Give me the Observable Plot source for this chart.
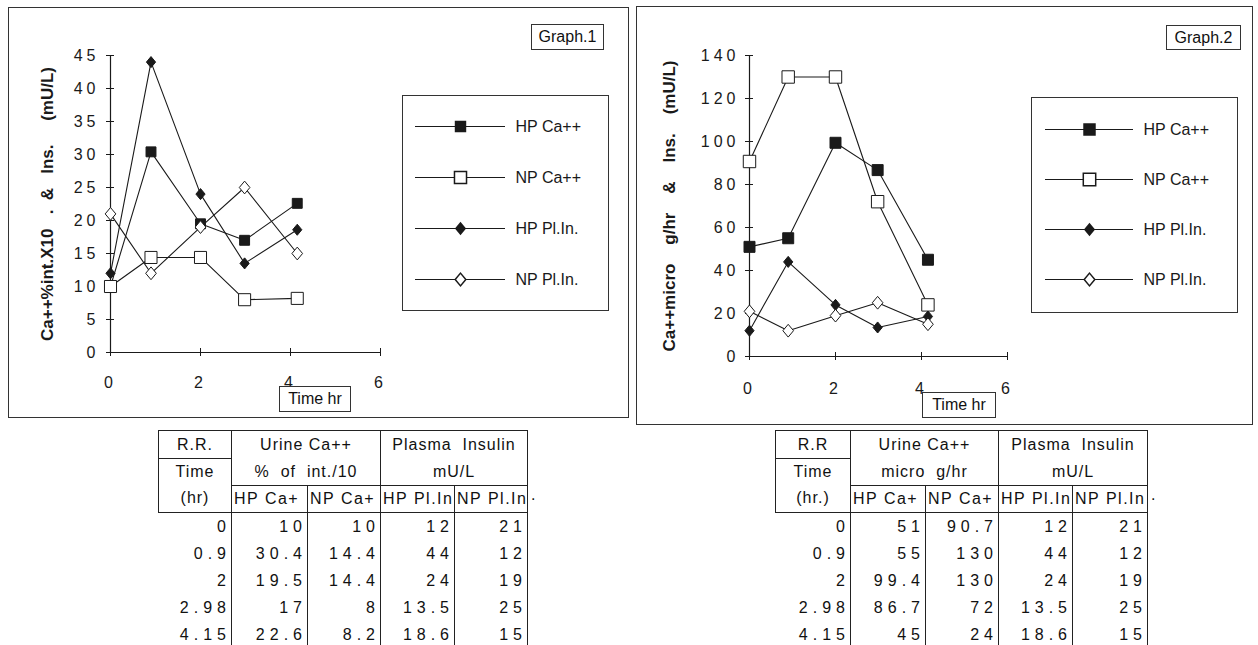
<!DOCTYPE html>
<html><head><meta charset="utf-8">
<script src="https://cdn.jsdelivr.net/npm/d3@7"></script>
<script src="https://cdn.jsdelivr.net/npm/@observablehq/plot@0.6"></script>
<style>
html,body{margin:0;padding:0;background:#fff;}
body{width:1258px;height:645px;position:relative;overflow:hidden;font-family:"Liberation Sans",Arial,sans-serif;color:#111;}
.panel{position:absolute;border:1px solid #333;box-sizing:border-box;}
.panel > .plot{position:absolute;left:0;top:0;}
.lg{position:absolute;border:1px solid #333;box-sizing:border-box;background:#fff;}
.lg > .plot{position:absolute;left:0;top:0;}
svg text{white-space:pre;}
.chart svg [aria-label^="x-axis"] text,.chart svg [aria-label^="y-axis"] text{letter-spacing:4px;}
.chart svg g[aria-label="ytitle"] text{letter-spacing:1px;}
.tag{position:absolute;border:1px solid #333;box-sizing:border-box;font-size:16px;display:flex;align-items:center;justify-content:center;background:#fff;}
table.dt{position:absolute;border-collapse:collapse;table-layout:fixed;font-size:16px;}
table.dt td{padding:0;height:27px;line-height:27px;white-space:pre;overflow:hidden;}
table.dt tr.hd2 td,table.dt tr.hd3 td{height:26px;line-height:26px;}
table.dt td.h{text-align:center;letter-spacing:1px;}
table.dt td.s{text-align:left;letter-spacing:1.5px;padding-left:2px;}
table.dt td.n{text-align:right;letter-spacing:5px;}
.bt{border-top:1px solid #222;}.bb{border-bottom:1px solid #222;}
.bl{border-left:1px solid #222;}.br{border-right:1px solid #222;}
.dot{position:absolute;font-size:16px;}
</style>
</head><body>
<div id="panel1" class="panel" style="left:8px;top:7px;width:621px;height:411px;"></div>
<div id="panel2" class="panel" style="left:636px;top:6px;width:617px;height:419px;"></div>
<script>
// ---------- data ----------
const times = [0, 0.9, 2, 2.98, 4.15];
const seriesNames = ["HP Ca++", "NP Ca++", "HP Pl.In.", "NP Pl.In."];
const g1HpCa = [10, 30.4, 19.5, 17, 22.6];
const g1NpCa = [10, 14.4, 14.4, 8, 8.2];
const g2HpCa = [51, 55, 99.4, 86.7, 45];
const g2NpCa = [90.7, 130, 130, 72, 24];
const hpPlIn = [12, 44, 24, 13.5, 18.6];
const npPlIn = [21, 12, 19, 25, 15];
const xTicks = [0, 2, 4, 6];
const g1YTicks = [0, 5, 10, 15, 20, 25, 30, 35, 40, 45];
const g2YTicks = [0, 20, 40, 60, 80, 100, 120, 140];
const g1Title = "Ca++%int.X10   .  &   Ins.     (mU/L)";
const g2Title = "Ca++micro    g/hr    &    Ins.    (mU/L)";

const INK = "#1a1a1a";
const diamond = {draw(ctx, size){const s = Math.sqrt(size); const w = s*0.5, h = s*0.6;
  ctx.moveTo(0,-h); ctx.lineTo(w,0); ctx.lineTo(0,h); ctx.lineTo(-w,0); ctx.closePath();}};

function makeStyles(sqR, osqR){
  return [
    {symbol:"square", fill:INK, stroke:INK, r:sqR},
    {symbol:"square", fill:"#fff", stroke:INK, r:osqR},
    {symbol:diamond, fill:INK, stroke:INK, r:5.2},
    {symbol:diamond, fill:"#fff", stroke:INK, r:6}
  ];
}

function chart(cfg){
  const data = cfg.series.map(vals => times.map((t,i)=>({t, v: vals[i]})));
  const innerH = cfg.height - cfg.mt - cfg.mb;
  const innerW = cfg.width - cfg.ml - cfg.mr;
  const styles = cfg.styles;
  const marks = [
    Plot.ruleX([0], {stroke:INK, strokeWidth:1.2}),
    Plot.ruleY([0], {stroke:INK, strokeWidth:1.2}),
    Plot.tickX(xTicks, {x:d=>d, stroke:INK, insetTop: innerH-4, insetBottom:-4}),
    Plot.tickY(cfg.yTicks, {y:d=>d, stroke:INK, insetRight: innerW-4, insetLeft:-4}),
    ...data.map(d => Plot.line(d, {x:"t", y:"v", stroke:INK, strokeWidth:1.1})),
    ...data.map((d,i) => Plot.dot(d, {x:"t", y:"v", symbol:styles[i].symbol, r:styles[i].r, fill:styles[i].fill, stroke:styles[i].stroke, strokeWidth:1})),
    Plot.text([cfg.title], {text:d=>d, frameAnchor:"left", textAnchor:"middle", lineAnchor:"middle", rotate:-90, dx:cfg.titleDx, fontWeight:"bold", fontSize:17, ariaLabel:"ytitle", fill:INK})
  ];
  return Plot.plot({
    width:cfg.width, height:cfg.height,
    marginLeft:cfg.ml, marginRight:cfg.mr, marginTop:cfg.mt, marginBottom:cfg.mb,
    style:{background:"transparent", fontFamily:"'Liberation Sans', Arial, sans-serif", fontSize:"16px", color:INK, overflow:"visible"},
    x:{domain:[0,6], ticks:xTicks, tickSize:0, tickPadding:cfg.xPad, label:null, tickFormat:d=>String(d)},
    y:{domain:cfg.yDomain, ticks:cfg.yTicks, tickSize:0, tickPadding:cfg.yPad, label:null, tickFormat:d=>String(d)},
    marks
  });
}

function legend(cfg){
  const styles = cfg.styles;
  return Plot.plot({
    width:205, height:214,
    marginLeft:cfg.ml, marginRight:cfg.mr, marginTop:cfg.mt, marginBottom:cfg.mb,
    style:{background:"transparent", fontFamily:"'Liberation Sans', Arial, sans-serif", fontSize:"16px", color:INK, overflow:"visible"},
    y:{type:"point", domain:seriesNames, padding:0, axis:null},
    marks:[
      Plot.ruleY(seriesNames, {y:d=>d, stroke:INK, strokeWidth:1.1}),
      ...seriesNames.map((n,i)=>Plot.dot([n], {y:d=>d, frameAnchor:"middle", symbol:styles[i].symbol, r:styles[i].r, fill:styles[i].fill, stroke:styles[i].stroke})),
      Plot.text(seriesNames, {y:d=>d, text:d=>d, frameAnchor:"right", textAnchor:"start", dx:10, fill:INK})
    ]
  });
}

function place(parentId, node, cls){
  const wrap = document.createElement("div");
  wrap.className = "plot " + (cls||"");
  wrap.appendChild(node);
  document.getElementById(parentId).appendChild(wrap);
}
function box(cls, left, top, w, h, text){
  const d = document.createElement("div");
  d.className = cls;
  Object.assign(d.style, {left:left+"px", top:top+"px", width:w+"px", height:h+"px"});
  if (text) d.textContent = text;
  document.body.appendChild(d);
  return d;
}

const st1 = makeStyles(5.6, 6.8);
const st2 = makeStyles(6.2, 7);

place("panel1", chart({width:619, height:409, ml:101, mr:248, mt:47, mb:65,
  series:[g1HpCa, g1NpCa, hpPlIn, npPlIn], yDomain:[0,45], yTicks:g1YTicks, yPad:11, xPad:24,
  title:g1Title, titleDx:-63, styles:st1}), "chart");
place("panel2", chart({width:615, height:417, ml:112, mr:245, mt:48, mb:68,
  series:[g2HpCa, g2NpCa, hpPlIn, npPlIn], yDomain:[0,140], yTicks:g2YTicks, yPad:10, xPad:26,
  title:g2Title, titleDx:-80, styles:st2}), "chart");

// legends
const l1 = box("lg", 402, 95, 207, 216); l1.id = "lg1";
place("lg1", legend({ml:12, mr:103, mt:29, mb:30, styles:st1}));
const l2 = box("lg", 1031, 97, 207, 216); l2.id = "lg2";
place("lg2", legend({ml:13, mr:104, mt:30, mb:32, styles:st2}));

// tags
box("tag", 531, 24, 73, 26, "Graph.1");
box("tag", 1166, 25, 75, 25, "Graph.2");
box("tag", 279, 386, 72, 26, "Time hr");
box("tag", 922, 392, 74, 26, "Time hr");

// tables
function table(left, colW, caUnits, timeUnit, rrLabel, hpCa, npCa){
  const t = document.createElement("table");
  t.className = "dt";
  t.style.left = left + "px";
  t.style.top = "430px";
  t.style.width = colW.reduce((a,b)=>a+b,0) + "px";
  const cg = document.createElement("colgroup");
  colW.forEach(w => { const c = document.createElement("col"); c.style.width = w + "px"; cg.appendChild(c); });
  t.appendChild(cg);
  const row = (cells, rc) => {
    const tr = document.createElement("tr");
    if (rc) tr.className = rc;
    cells.forEach(([txt, cls, span]) => {
      const td = document.createElement("td");
      td.textContent = txt; td.className = cls;
      if (span) td.colSpan = span;
      tr.appendChild(td);
    });
    t.appendChild(tr);
  };
  row([[rrLabel, "h bt bb bl br"], ["Urine Ca++", "h bt br", 2], ["Plasma  Insulin", "h bt br", 2]], "hd1");
  row([["Time", "h bl br"], [caUnits, "h bb br", 2], ["mU/L", "h bb br", 2]], "hd2");
  row([[timeUnit, "h bl br bb"], ["HP Ca+", "s br bb"], ["NP Ca+", "s br bb"], ["HP Pl.In", "s br bb"], ["NP Pl.In", "s br bb"]], "hd3");
  times.forEach((tm, i) => {
    row([[String(tm), "n br"], [String(hpCa[i]), "n br"], [String(npCa[i]), "n br"], [String(hpPlIn[i]), "n br"], [String(npPlIn[i]), "n br"]]);
  });
  document.body.appendChild(t);
}
table(158, [73, 76, 73, 74, 73], "%  of  int./10", "(hr)", "R.R.", g1HpCa, g1NpCa);
table(775, [75, 75, 73, 74, 75], "micro  g/hr", "(hr.)", "R.R", g2HpCa, g2NpCa);
const d1 = document.createElement("div"); d1.className = "dot"; d1.textContent = "."; d1.style.left = "531px"; d1.style.top = "486px"; document.body.appendChild(d1);
const d2 = document.createElement("div"); d2.className = "dot"; d2.textContent = "."; d2.style.left = "1151px"; d2.style.top = "486px"; document.body.appendChild(d2);
</script>
</body></html>
